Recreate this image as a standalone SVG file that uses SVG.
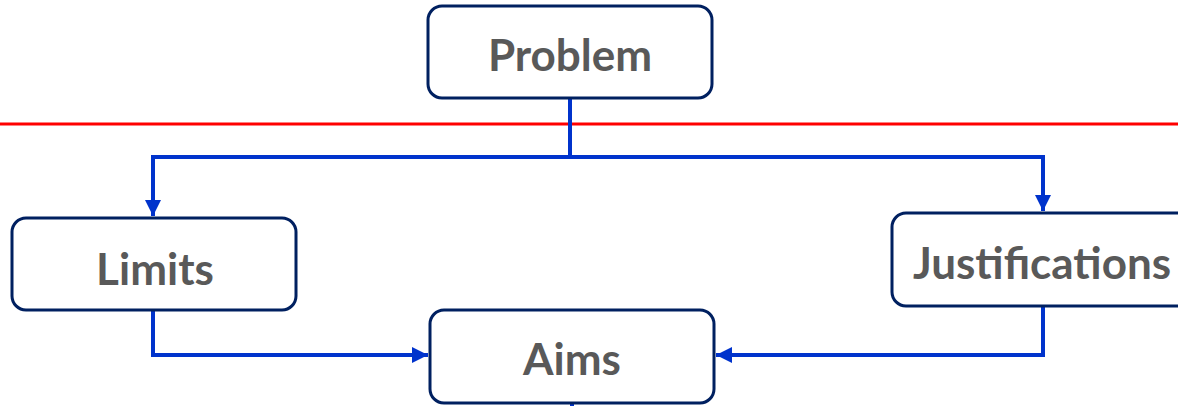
<svg xmlns="http://www.w3.org/2000/svg" width="1178" height="406" viewBox="0 0 1178 406">
  <defs>
    <marker id="arrow" viewBox="0 0 10 10" refX="10" refY="5" markerWidth="4" markerHeight="4" orient="auto" markerUnits="strokeWidth">
      <path d="M0,0 L10,5 L0,10 Z" fill="#0033cc"/>
    </marker>
    <style>
      .box { fill: #ffffff; stroke: #002060; stroke-width: 3; }
      .label { font-family: Lato, "Open Sans", sans-serif; font-weight: bold; font-size: 44px; fill: #595959; text-anchor: middle; dominant-baseline: central; }
      .link { fill: none; stroke: #0033cc; stroke-width: 4; stroke-linejoin: miter; }
      .divider { stroke: #ff0000; stroke-width: 3; }
    </style>
  </defs>

  <!-- horizontal divider -->
  <line class="divider" x1="0" y1="124" x2="1178" y2="124"/>

  <!-- connectors -->
  <g id="connectors">
    <path class="link" d="M570,98 V157 H153 V216" marker-end="url(#arrow)"/>
    <path class="link" d="M570,157 H1043 V211" marker-end="url(#arrow)"/>
    <path class="link" d="M153,310 V355 H428" marker-end="url(#arrow)"/>
    <path class="link" d="M1043,306 V355 H716" marker-end="url(#arrow)"/>
    <path class="link" d="M572,403 V406"/>
  </g>

  <g id="problem">
    <rect class="box" x="428" y="6" width="284" height="92" rx="14"/>
    <text class="label" x="570" y="54">Problem</text>
  </g>

  <g id="limits">
    <rect class="box" x="12" y="218" width="284" height="92" rx="14"/>
    <text class="label" x="155" y="268">Limits</text>
  </g>

  <g id="justifications">
    <rect class="box" x="892" y="213" width="300" height="93" rx="14"/>
    <text class="label" x="1042" y="262">Justifications</text>
  </g>

  <g id="aims">
    <rect class="box" x="430" y="310" width="284" height="93" rx="14"/>
    <text class="label" x="572" y="358">Aims</text>
  </g>
</svg>
